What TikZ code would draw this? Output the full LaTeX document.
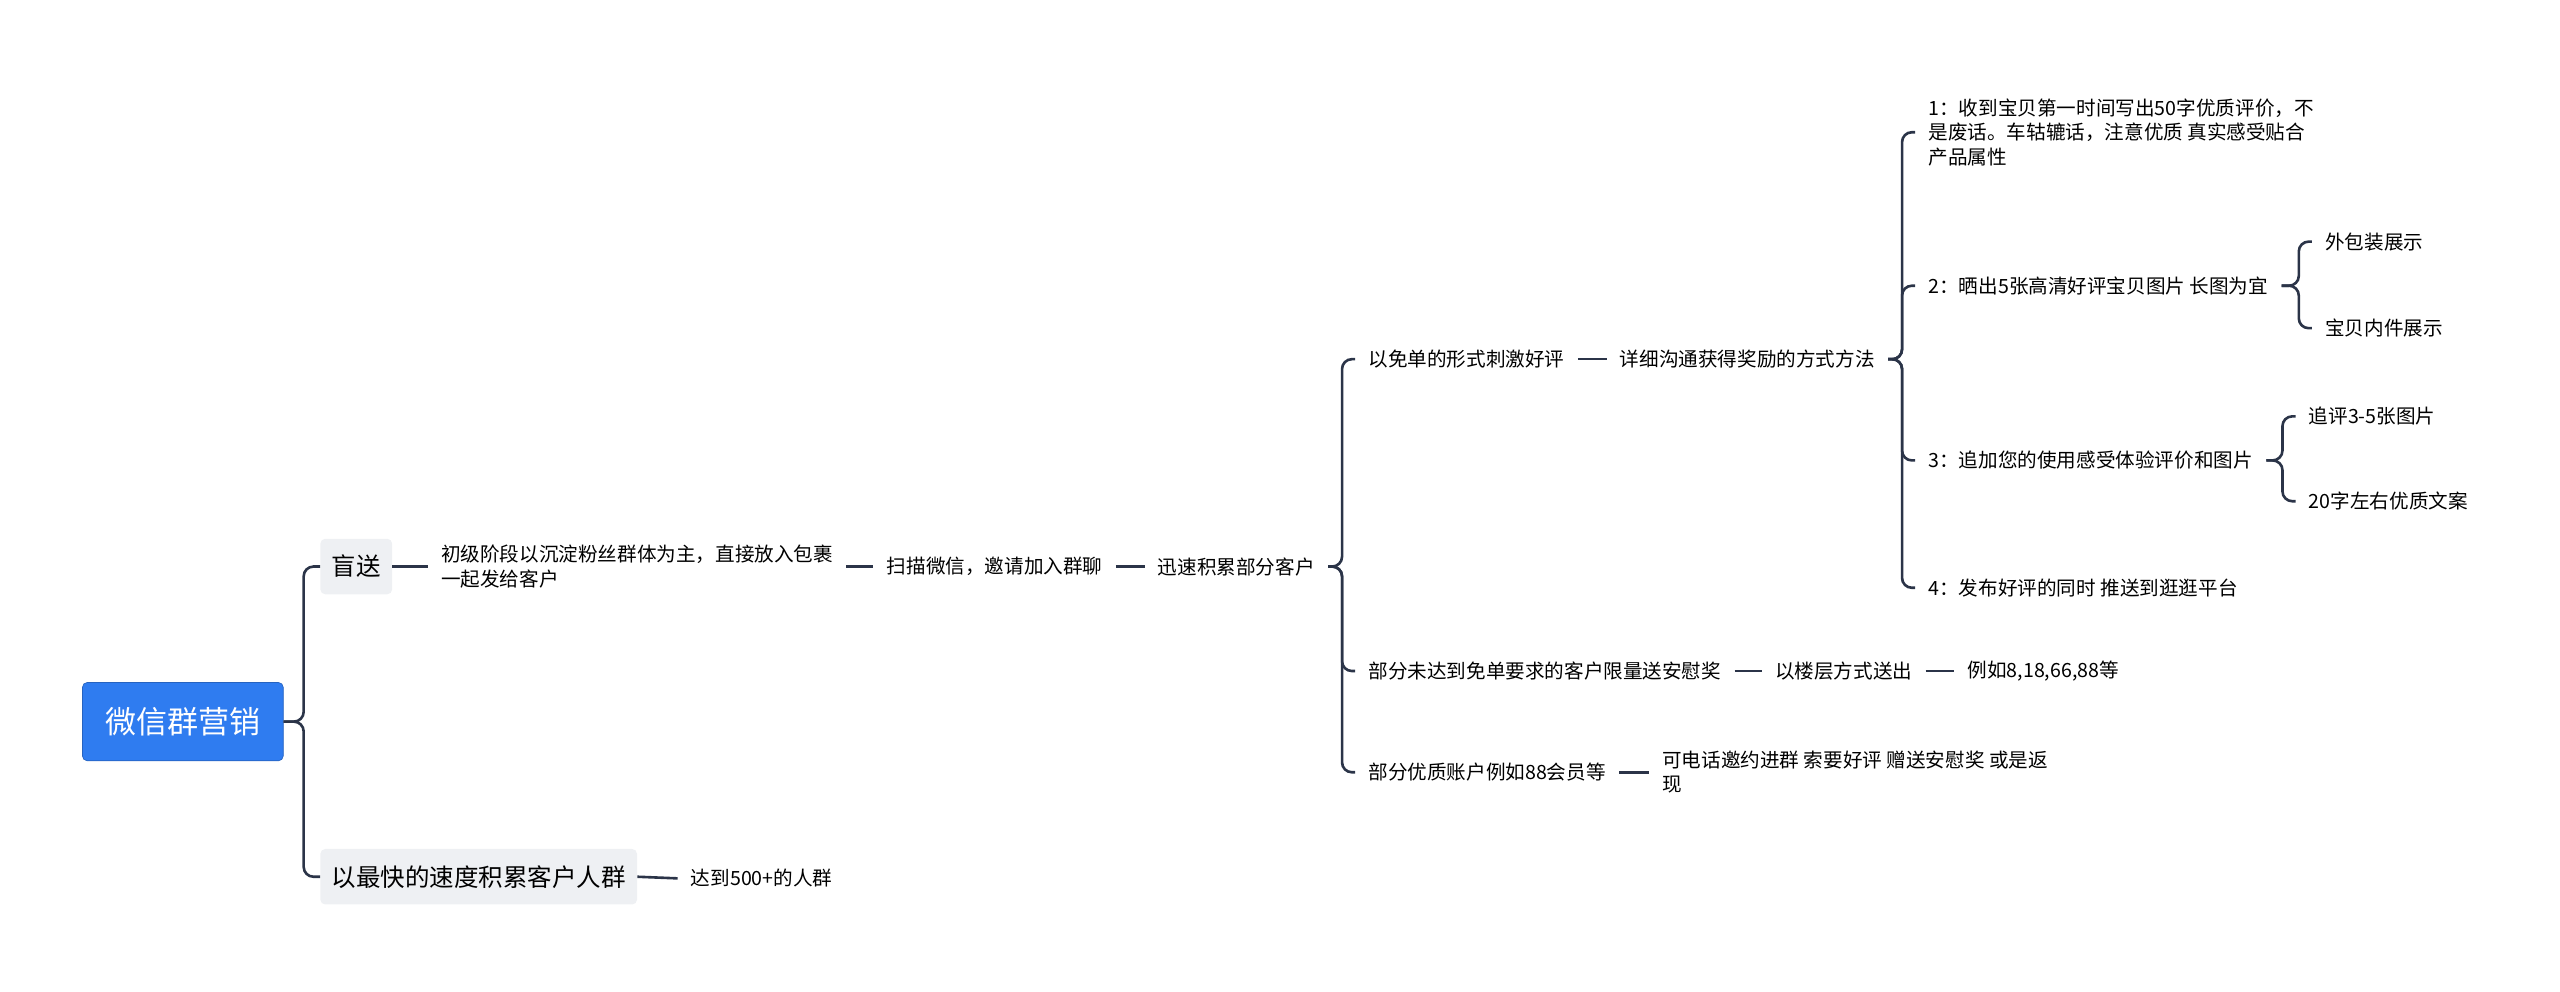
\documentclass[tikz,border=0pt]{standalone}
\usepackage{fontspec}
\setmainfont{Noto Sans CJK SC}
\usetikzlibrary{positioning}
\definecolor{linec}{HTML}{2B3448}
\definecolor{rootc}{HTML}{2F7CF0}
\definecolor{boxc}{HTML}{EEF0F3}
\tikzset{
  root/.style={fill=rootc,draw=rootc!80!black,rounded corners=3pt,text=white,font=\fontsize{19}{22}\selectfont,minimum width=123pt,minimum height=48pt},
  lvl/.style={fill=boxc,rounded corners=3pt,font=\fontsize{15}{18}\selectfont,minimum height=34pt,inner xsep=7pt},
  leaf/.style={anchor=west,align=left,font=\fontsize{12}{15}\selectfont,inner xsep=8pt,inner ysep=2pt},
  link/.style={draw=linec,line width=1.6pt,rounded corners=6pt}
}
\begin{document}
\begin{tikzpicture}[x=1pt,y=-1pt]
\useasboundingbox (0,0) rectangle (1568,607);
% main branches
\node[root](z) at (112,442){微信群营销};
\node[lvl,anchor=west](a) at (196,347){盲送};
\node[lvl,anchor=west](b) at (196,537){以最快的速度积累客户人群};
\node[leaf](b1) at (415,538){达到500+的人群};
\node[leaf](a1) at (262,347){初级阶段以沉淀粉丝群体为主，直接放入包裹\\一起发给客户};
\node[leaf](a2) at (535,347){扫描微信，邀请加入群聊};
\node[leaf](a3) at (701,347){迅速积累部分客户};
% third level
\node[leaf](c1) at (830,220){以免单的形式刺激好评};
\node[leaf](c2) at (830,411){部分未达到免单要求的客户限量送安慰奖};
\node[leaf](c3) at (830,473){部分优质账户例如88会员等};
\node[leaf](d1) at (984,220){详细沟通获得奖励的方式方法};
\node[leaf](d2) at (1079,411){以楼层方式送出};
\node[leaf](d3) at (1197,411){例如8,18,66,88等};
\node[leaf](d4) at (1010,473){可电话邀约进群 索要好评 赠送安慰奖 或是返\\现};
% methods
\node[leaf](e1) at (1173,81){1：收到宝贝第一时间写出50字优质评价，不\\是废话。车轱辘话，注意优质 真实感受贴合\\产品属性};
\node[leaf](e2) at (1173,175){2：晒出5张高清好评宝贝图片 长图为宜};
\node[leaf](e3) at (1173,282){3：追加您的使用感受体验评价和图片};
\node[leaf](e4) at (1173,360){4：发布好评的同时 推送到逛逛平台};
\node[leaf](f1) at (1416,148){外包装展示};
\node[leaf](f2) at (1416,201){宝贝内件展示};
\node[leaf](g1) at (1406,255){追评3-5张图片};
\node[leaf](g2) at (1406,307){20字左右优质文案};
% connectors
\foreach \c in {a,b}
  \draw[link] (z.east) -- (186,442) |- (\c.west);
\draw[link] (b.east) -- (b1.west);
\draw[link] (a.east) -- (a1.west);
\draw[link] (a1.east) -- (a2.west);
\draw[link] (a2.east) -- (a3.west);
\foreach \c in {c1,c2,c3}
  \draw[link] (a3.east) -- (822,347) |- (\c.west);
\draw[link] (c1.east) -- (d1.west);
\draw[link] (c2.east) -- (d2.west);
\draw[link] (d2.east) -- (d3.west);
\draw[link] (c3.east) -- (d4.west);
\foreach \c in {e1,e2,e3,e4}
  \draw[link] (d1.east) -- (1165,220) |- (\c.west);
\foreach \c in {f1,f2}
  \draw[link] (e2.east) -- (1408,175) |- (\c.west);
\foreach \c in {g1,g2}
  \draw[link] (e3.east) -- (1398,282) |- (\c.west);
\end{tikzpicture}
\end{document}
